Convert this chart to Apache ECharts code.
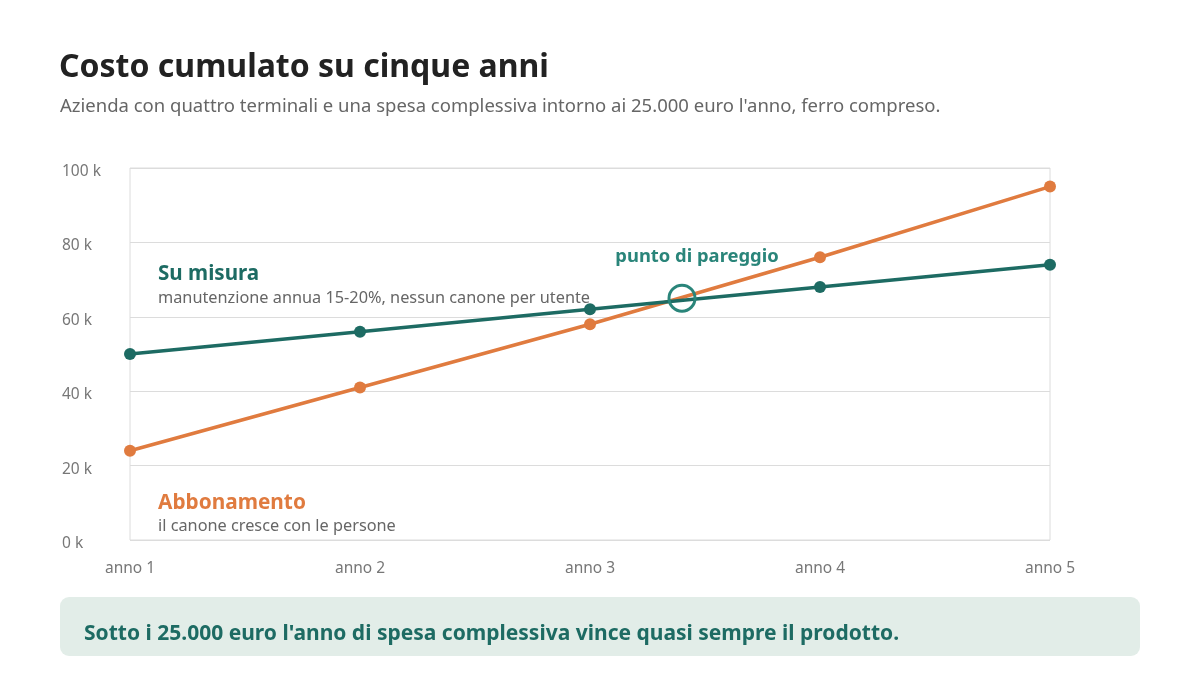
<!DOCTYPE html>
<html>
<head>
<meta charset="utf-8">
<script src="https://cdn.jsdelivr.net/npm/echarts@6/dist/echarts.min.js"></script>
<style>
  html, body { margin: 0; padding: 0; background: #fff; }
  #main { width: 1200px; height: 686px; }
</style>
</head>
<body>
<div id="main"></div>
<script>
// anni sull'asse x, costi cumulati in migliaia di euro
var anni = [1, 2, 3, 4, 5];
var suMisura = [50, 56, 62, 68, 74];
var abbonamento = [24, 41, 58, 76, 95];
var yTicks = [0, 20, 40, 60, 80, 100];
var pareggio = [3.4, 65];

var teal = '#1d6b63';
var orange = '#e07b3f';
var font = '"Noto Sans", sans-serif';

var myChart = echarts.init(document.getElementById('main'));

// testo posizionato sul centro verticale
function label(x, y, text, fill, size, bold) {
    return {
        type: 'text', x: x, y: y,
        style: {
            text: text, fill: fill,
            font: (bold ? 'bold ' : '') + size + 'px ' + font,
            verticalAlign: 'middle'
        }
    };
}

var option = {
    backgroundColor: '#fff',
    textStyle: { fontFamily: font },
    grid: {
        left: 130, right: 150, top: 168, bottom: 146,
        show: true, borderColor: '#dcdcdc', borderWidth: 1
    },
    xAxis: {
        type: 'value',
        min: anni[0], max: anni[anni.length - 1], interval: 1,
        axisLine: { show: false },
        axisTick: { show: false },
        splitLine: { show: false },
        axisLabel: {
            color: '#777', fontSize: 15.5, margin: 21,
            formatter: function (v) { return 'anno ' + v; }
        }
    },
    yAxis: {
        type: 'value',
        min: yTicks[0], max: yTicks[yTicks.length - 1], interval: 20,
        axisLine: { show: false },
        axisTick: { show: false },
        splitLine: { lineStyle: { color: '#dcdcdc' } },
        axisLabel: {
            color: '#777', fontSize: 15.5, align: 'left', margin: 68,
            formatter: function (v) { return '{t|' + v + ' k}'; },
            rich: { t: { color: '#777', fontSize: 15.5, padding: [7, 0, 0, 0] } }
        }
    },
    series: [
        {
            name: 'Su misura',
            type: 'line',
            data: anni.map(function (a, i) { return [a, suMisura[i]]; }),
            symbol: 'circle', symbolSize: 12,
            lineStyle: { color: teal, width: 3.5 },
            itemStyle: { color: teal },
            z: 3
        },
        {
            name: 'Abbonamento',
            type: 'line',
            data: anni.map(function (a, i) { return [a, abbonamento[i]]; }),
            symbol: 'circle', symbolSize: 12,
            lineStyle: { color: orange, width: 3.5 },
            itemStyle: { color: orange },
            z: 2,
            markPoint: {
                symbol: 'circle',
                symbolSize: 26,
                itemStyle: { color: 'rgba(0,0,0,0)', borderColor: '#2a857a', borderWidth: 3 },
                label: {
                    show: true,
                    formatter: 'punto di pareggio',
                    position: 'inside',
                    offset: [15, -41],
                    color: '#2a857a', fontSize: 18.4, fontWeight: 'bold', fontFamily: font
                },
                data: [{ coord: pareggio }]
            }
        }
    ],
    graphic: [
        label(59, 68, 'Costo cumulato su cinque anni', '#222', 32, true),
        label(60, 107, "Azienda con quattro terminali e una spesa complessiva intorno ai 25.000 euro l'anno, ferro compreso.", '#666', 18.5, false),
        label(158, 274, 'Su misura', teal, 20.6, true),
        label(158, 298, 'manutenzione annua 15-20%, nessun canone per utente', '#666', 16.3, false),
        label(158, 503, 'Abbonamento', orange, 20.8, true),
        label(158, 526, 'il canone cresce con le persone', '#666', 16.3, false),
        { type: 'rect', left: 60, top: 597,
          shape: { width: 1080, height: 59, r: 9 },
          style: { fill: '#e2ede8' } },
        label(84, 634, "Sotto i 25.000 euro l'anno di spesa complessiva vince quasi sempre il prodotto.", teal, 21, true)
    ]
};

myChart.setOption(option);
</script>
</body>
</html>
